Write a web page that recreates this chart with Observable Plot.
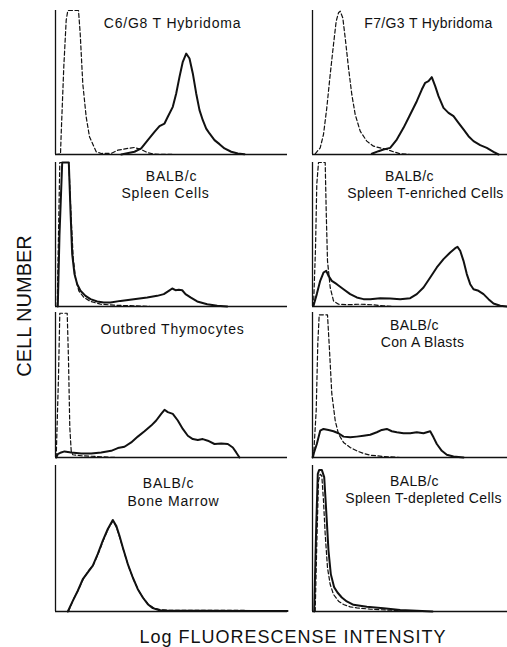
<!DOCTYPE html>
<html>
<head>
<meta charset="utf-8">
<script src="https://cdn.jsdelivr.net/npm/d3@7"></script>
<script src="https://cdn.jsdelivr.net/npm/@observablehq/plot@0.6"></script>
<style>
  html, body { margin: 0; padding: 0; background: #fff; }
  #fig { position: relative; width: 507px; height: 647px; overflow: hidden; font-family: "Liberation Sans", Arial, Helvetica, sans-serif; color: #111; }
  .panel { position: absolute; }
  #ylab { position: absolute; left: 24px; top: 306px; transform: translate(-50%, -50%) rotate(-90deg); font-size: 20px; white-space: nowrap; }
  #xlab { position: absolute; left: 293px; top: 637px; transform: translate(-50%, -50%); font-size: 18px; letter-spacing: 1px; white-space: nowrap; }
</style>
</head>
<body>
<div id="fig">
  <div id="ylab">CELL NUMBER</div>
  <div id="xlab">Log FLUORESCENSE INTENSITY</div>
</div>
<script>
// ---- data: [fluorescence channel offset, relative cell number (0-100)] ----
const c6g8Dashed = [[0,0],[5,0.3],[5.7,14.6],[8.3,61],[10.7,93.3],[12.3,100],[23,100],[24.7,84],[27.3,49],[30.7,26],[34,12.3],[40.7,1.9],[45.7,0.7],[55.7,0.8],[62.3,3],[72.3,4.2],[79,4.9],[85.7,3.5],[92.3,1.2],[99,0.2],[120,0]];
const c6g8Solid = [[65.7,0],[79,1.9],[85.7,4.2],[92.3,10],[99,15.7],[104,19.7],[109,21.5],[112.3,26.2],[117.3,33.1],[120.7,42.4],[124,53.9],[127.3,64.4],[130.7,70.1],[134,66.7],[137.3,56.3],[140.7,42.4],[144,30.8],[147.3,23.8],[150.7,18],[154,14.6],[159,10],[164,7.2],[169,4.2],[175.7,1.9],[182.3,0.7],[189,0.2]];

const f7g3Dashed = [[2.7,0.5],[7.7,4.6],[11,13.9],[14.3,32.4],[17.7,55.6],[21,76.4],[23.7,92.6],[26,98.4],[27.7,99.5],[30.3,94.9],[32.7,81],[36,60.2],[39.3,41.7],[42.7,27.8],[47.7,16.2],[54.3,9.3],[61,5.8],[67.7,4.6],[74.3,3.5],[81,1.9],[87.7,0.5],[97.7,0]];
const f7g3Solid = [[59.3,0.5],[66,2.3],[71,3.5],[77.7,4.6],[84.3,10.4],[91,18.5],[97.7,27.8],[104.3,37],[109.3,45.1],[112.7,49.8],[116,50.9],[119.3,53.7],[122.7,47.5],[126,40.5],[131,32.4],[136,28.9],[141,26.6],[146,22],[151,17.4],[156,12.7],[161,9.3],[167.7,6.5],[174.3,4.6],[181,1.9],[186,0]];

const spleenDashed = [[1.7,0],[4.3,100],[13.3,100],[15.7,61],[17.7,34],[20,19.7],[23.3,10.9],[28.3,6.3],[35,3.5],[45,1.6],[58.3,0.9],[78.3,0.5],[95,0]];
const spleenSolid = [[2.3,0],[4,50],[6.7,100],[13.3,100],[15,66.4],[16.7,36.3],[19,22.5],[21.7,15.5],[25,10.9],[30,7.4],[35,5.1],[41.7,3.5],[48.3,2.8],[55,2.8],[65,3.9],[78.3,5.1],[91.7,6.3],[101.7,7.4],[108.3,8.6],[113.3,10.9],[116.7,12.5],[120,11.3],[123.3,11.6],[126.7,11.3],[130,8.6],[135,6.3],[141.7,3.5],[151.7,1.6],[161.7,0.5],[171.7,0]];

const tEnrDashed = [[1,0],[3,40],[4.3,85],[6,100],[12.7,100],[13.7,66.4],[15,31.7],[17.7,13.2],[21,3.9],[26,1.6],[34.3,1.2],[47.7,1.6],[60,1.2],[71,0.5],[80,0]];
const tEnrSolid = [[1,0.5],[4.3,8.6],[7.7,17.8],[11,23.6],[13.7,24.8],[16,21.3],[19.3,17.8],[24.3,15.5],[31,12],[37.7,8.6],[44.3,6.3],[51,5.1],[57.7,5.1],[67.7,5.8],[77.7,5.6],[87.7,5.1],[97.7,5.8],[104.3,8.6],[111,13.2],[117.7,20.1],[124.3,27.1],[131,32.9],[137.7,37.5],[142.7,40.5],[145,41.4],[147.7,38.7],[151,31.7],[154.3,22.5],[157.7,15.5],[161,12],[166,10.9],[171,8.6],[176,5.1],[181,2.1],[187.7,0.5],[194.3,0]];

const thymDashed = [[0.7,0],[3,55.6],[4.3,99.5],[11.7,99.5],[13,67.1],[14.3,20.8],[15.7,4.6],[17.3,1.9],[25.7,1.2],[45.7,0.5],[60,0]];
const thymSolid = [[0.7,0],[2.3,2.3],[5.7,3.5],[9,4.2],[15.7,3.5],[25.7,2.8],[35.7,2.8],[45.7,3.5],[55.7,4.6],[62.3,6.5],[69,7.4],[75.7,10.4],[82.3,14.4],[89,18.1],[95.7,22],[100.7,25.5],[105.7,30.1],[109,32.9],[112.3,31.3],[117.3,30.1],[122.3,25.5],[127.3,19.7],[132.3,15],[137.3,12.7],[142.3,12],[147.3,12.7],[152.3,11.6],[159,9.3],[165.7,9.7],[172.3,9.3],[177.3,6.9],[180.7,3.5],[184,0]];

const conADashed = [[1,0],[3.7,32.4],[5.3,78.7],[6.7,98.4],[15,98.4],[17,74.1],[19.3,44],[22.7,25.5],[26,16.2],[31,10.4],[37.7,6.9],[44.3,4.6],[51,2.8],[57.7,1.6],[71,0.7],[87.7,0]];
const conASolid = [[0,0],[1,2.3],[4.3,9.3],[7.7,18.5],[11,19.7],[16,19],[21,18.1],[26,16.7],[31,14.4],[37.7,13.9],[44.3,14.4],[51,15],[57.7,15.7],[64.3,17.4],[69.3,19],[74.3,19.7],[79.3,18.1],[84.3,17.4],[91,16.7],[97.7,16.7],[104.3,17.4],[111,16.7],[117.7,18.1],[121,13.9],[124.3,9.3],[129.3,4.6],[134.3,1.9],[141,0.7],[151,0]];

const marrowDashed = [[13,0],[18,8.5],[23,15],[28,22.5],[33,28],[38,32],[43,40],[48,49],[53,57],[57.5,62],[61,57.5],[64.5,50],[68,42],[73,31],[78,22],[83,14.5],[88,9],[93,4.8],[98,2.5],[105,1.2],[115,0.8],[150,0.8],[232,0.6]];
const marrowSolid = [[12.3,0],[17.3,7.3],[22.3,14.2],[27.3,22.2],[32.3,26.8],[37.3,31.4],[42.3,39.4],[47.3,48.5],[52.3,56.5],[57.3,62.7],[60.7,58.8],[64,51.9],[67.3,43.9],[72.3,32.5],[77.3,23.3],[82.3,15.3],[87.3,9.6],[92.3,5],[97.3,2.3],[104,0.9],[112.3,0.5],[145.7,0.5],[232,0.3]];

const tDepDashed = [[2.7,0],[4.3,46.5],[6,89.5],[7.7,94],[9.3,93],[11,75.7],[12.7,52.9],[15,30],[17.7,18.5],[21,11.7],[26,7.1],[31,4.8],[37.7,3.2],[44.3,2.5],[57.7,1.6],[77.7,0.9],[97.7,0.2],[110,0]];
const tDepSolid = [[1.7,0],[3.7,57.7],[5.3,94.3],[6.7,97],[9.3,97],[11.7,92],[13.7,69.1],[16,41.6],[18.3,25.6],[21.7,16.5],[25,13],[29.3,9.6],[34.3,6.9],[41,4.6],[54.3,3.2],[71,2.3],[87.7,1.1],[104.3,0.5],[120,0]];

// ---- panel titles ----
const titlesC6G8 = ["C6/G8 T Hybridoma"];
const titlesF7G3 = ["F7/G3 T Hybridoma"];
const titlesSpleen = ["BALB/c", "Spleen Cells"];
const titlesTEnr = ["BALB/c", "Spleen T-enriched Cells"];
const titlesThym = ["Outbred Thymocytes"];
const titlesConA = ["BALB/c", "Con A Blasts"];
const titlesMarrow = ["BALB/c", "Bone Marrow"];
const titlesTDep = ["BALB/c", "Spleen T-depleted Cells"];

// ---- layout ----
const cols = [{axisX: 55, endX: 287, spacing: "0.8px"}, {axisX: 312, endX: 507, spacing: "0.35px"}];
const rows = [{top: 10, base: 154}, {top: 162, base: 306}, {top: 312, base: 457}, {top: 465, base: 611}];

const panels = [
  {col: 0, row: 0, solid: c6g8Solid, dashed: c6g8Dashed, titles: titlesC6G8, cx: [172], ty: [17]},
  {col: 1, row: 0, solid: f7g3Solid, dashed: f7g3Dashed, titles: titlesF7G3, cx: [428], ty: [17]},
  {col: 0, row: 1, solid: spleenSolid, dashed: spleenDashed, titles: titlesSpleen, cx: [171, 165], ty: [18, 35]},
  {col: 1, row: 1, solid: tEnrSolid, dashed: tEnrDashed, titles: titlesTEnr, cx: [409, 425], ty: [18, 35]},
  {col: 0, row: 2, solid: thymSolid, dashed: thymDashed, titles: titlesThym, cx: [172], ty: [21]},
  {col: 1, row: 2, solid: conASolid, dashed: conADashed, titles: titlesConA, cx: [414, 422], ty: [17.5, 34]},
  {col: 0, row: 3, solid: marrowSolid, dashed: marrowDashed, titles: titlesMarrow, cx: [168, 173], ty: [22, 40]},
  {col: 1, row: 3, solid: tDepSolid, dashed: tDepDashed, titles: titlesTDep, cx: [414, 423], ty: [20, 37]}
];

const fig = document.getElementById("fig");
const ink = "#111";

for (const p of panels) {
  const {axisX, endX, spacing} = cols[p.col];
  const {top, base} = rows[p.row];
  const width = endX - axisX + 1;
  const height = base - top + 1;
  const chart = Plot.plot({
    width, height,
    marginLeft: 1, marginRight: 0, marginTop: 0, marginBottom: 1,
    x: {domain: [0, endX - axisX], axis: null},
    y: {domain: [0, 100], axis: null},
    style: {background: "transparent", overflow: "visible", fontFamily: "'Liberation Sans', Arial, Helvetica, sans-serif", letterSpacing: spacing},
    marks: [
      Plot.ruleX([0], {stroke: ink, strokeWidth: 1.3}),
      Plot.ruleY([0], {stroke: ink, strokeWidth: 1.6}),
      Plot.line(p.dashed, {x: d => d[0], y: d => d[1], stroke: ink, strokeWidth: 1.2, strokeDasharray: "4,2.5"}),
      Plot.line(p.solid, {x: d => d[0], y: d => d[1], stroke: ink, strokeWidth: 2}),
      ...p.titles.map((t, i) => Plot.text([t], {
        text: d => d,
        frameAnchor: "top-left",
        dx: p.cx[i] - axisX,
        dy: p.ty[i],
        textAnchor: "middle",
        lineAnchor: "bottom",
        fontSize: 14,
        fill: ink
      }))
    ]
  });
  const div = document.createElement("div");
  div.className = "panel";
  div.style.left = (axisX - 1) + "px";
  div.style.top = top + "px";
  div.appendChild(chart);
  fig.appendChild(div);
}
</script>
</body>
</html>
